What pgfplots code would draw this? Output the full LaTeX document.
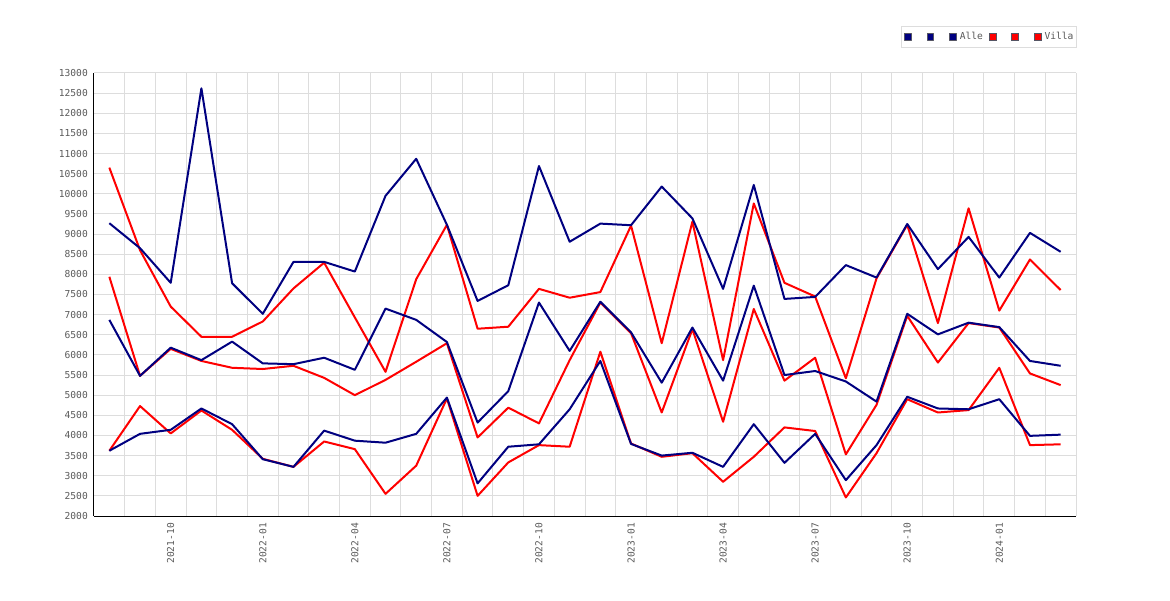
\documentclass[border=0pt]{standalone}
\usepackage{fontspec}
\setmonofont{DejaVu Sans Mono}
\usepackage{pgfplots}
\usepackage{pgfplotstable}
\pgfplotsset{compat=1.18}
\definecolor{navy}{RGB}{0,0,128}
\definecolor{tickgray}{RGB}{90,90,90}
\definecolor{gridgray}{RGB}{221,221,221}
\definecolor{boxgray}{RGB}{85,85,100}

\pgfplotstableread{
i  bu     bm    bl    ru     rm    rl
0  9270   6870  3620  10650  7940  3620
1  8650   5480  4040  8600   5480  4730
2  7790   6180  4140  7200   6150  4050
3  12620  5870  4670  6450   5850  4620
4  7780   6330  4280  6450   5680  4140
5  7020   5790  3410  6830   5650  3420
6  8310   5770  3220  7650   5730  3220
7  8310   5930  4120  8290   5430  3850
8  8070   5630  3870  6930   5000  3660
9  9950   7150  3820  5580   5380  2550
10 10870  6870  4040  7880   5830  3250
11 9230   6320  4940  9230   6290  4920
12 7340   4320  2810  6650   3950  2500
13 7730   5100  3720  6700   4690  3330
14 10690  7300  3780  7640   4300  3760
15 8810   6100  4650  7420   5870  3720
16 9260   7320  5850  7560   7300  6080
17 9220   6560  3790  9210   6540  3800
18 10180  5310  3500  6290   4570  3470
19 9390   6680  3570  9310   6640  3560
20 7640   5360  3220  5870   4340  2850
21 10220  7720  4280  9760   7140  3470
22 7390   5500  3320  7790   5360  4200
23 7440   5600  4040  7450   5930  4110
24 8230   5340  2890  5420   3530  2460
25 7920   4840  3760  7900   4760  3560
26 9250   7020  4960  9230   6970  4900
27 8130   6510  4670  6790   5810  4570
28 8930   6800  4650  9640   6790  4630
29 7920   6690  4900  7100   6680  5680
30 9030   5850  3990  8370   5540  3760
31 8560   5730  4020  7610   5250  3780
}\datatable

\begin{document}
\begin{tikzpicture}[x=1pt,y=1pt]
\path[use as bounding box] (-94,-84) rectangle (1076,516);
\begin{axis}[
  scale only axis, width=982pt, height=443pt,
  at={(0pt,0pt)}, anchor=south west,
  xmin=-0.5, xmax=31.5, ymin=2000, ymax=13000,
  ytick={2000,2500,...,13000},
  xtick={2,5,...,29},
  xticklabels={2021-10,2022-01,2022-04,2022-07,2022-10,2023-01,2023-04,2023-07,2023-10,2024-01},
  minor xtick={-0.5,0.5,...,31.5},
  xminorgrids, ymajorgrids,
  major tick length=0pt, minor tick length=0pt,
  tick style={draw=none},
  grid style={gridgray, line width=1pt},
  minor grid style={gridgray, line width=1pt},
  axis x line*=bottom, axis y line*=left,
  axis line style={black, line width=1pt, -},
  ticklabel style={font=\ttfamily\fontsize{9.6}{11}\selectfont, text=tickgray, inner sep=0pt},
  xticklabel style={rotate=90, anchor=east},
  yticklabel style={anchor=east},
  xticklabel shift=7pt, yticklabel shift=6pt,
  y tick label style={/pgf/number format/.cd, set thousands separator={}, fixed, assume math mode=true},
  scaled y ticks=false,
  legend columns=6,
  legend cell align=left,
  legend style={at={(1,1)}, anchor=south east, yshift=25pt, xshift=1pt,
    draw=gridgray, line width=1pt, fill=white,
    font=\ttfamily\fontsize{9.6}{11}\selectfont, text=tickgray,
    inner xsep=3pt, inner ysep=6pt,
    nodes={inner sep=0pt},
    column sep=0pt,
    /tikz/every odd column/.append style={column sep=3.5pt},
    /tikz/every even column/.append style={column sep=6pt}},
  legend image code/.code={\filldraw[#1, draw=boxgray, line width=0.6pt] (0pt,-3.3pt) rectangle (6.6pt,3.3pt);},
  legend entries={\hphantom{0},\hphantom{0},Alle,\hphantom{0},\hphantom{0},Villa},
]
\addplot[color=red, line width=2pt, line join=round, forget plot] table[x=i, y=ru] {\datatable};
\addplot[color=red, line width=2pt, line join=round, forget plot] table[x=i, y=rm] {\datatable};
\addplot[color=red, line width=2pt, line join=round, forget plot] table[x=i, y=rl] {\datatable};
\addplot[color=navy, line width=2pt, line join=round] table[x=i, y=bu] {\datatable};
\addplot[color=navy, line width=2pt, line join=round] table[x=i, y=bm] {\datatable};
\addplot[color=navy, line width=2pt, line join=round] table[x=i, y=bl] {\datatable};
\addlegendimage{color=red}
\addlegendimage{color=red}
\addlegendimage{color=red}
\end{axis}
\end{tikzpicture}
\end{document}
